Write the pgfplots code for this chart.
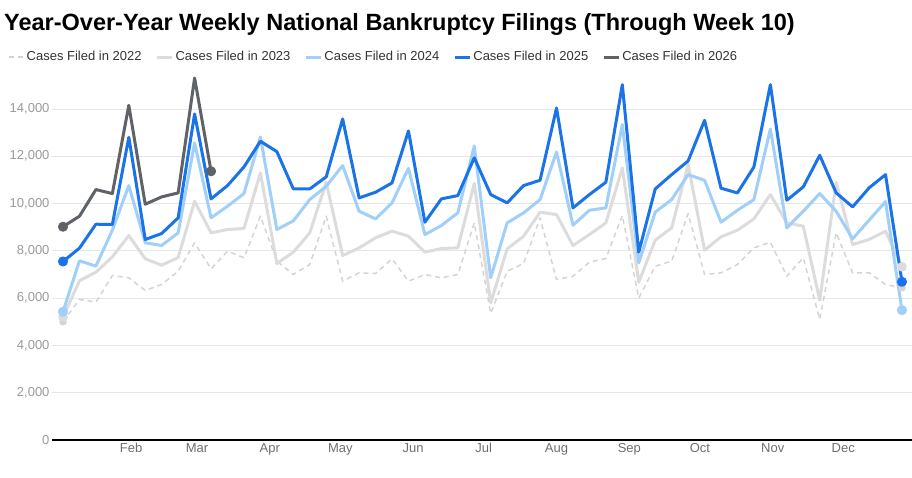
\documentclass[border=0pt]{standalone}
\usepackage{fontspec}
\setmainfont{Liberation Sans}
\usepackage{pgfplots}
\pgfplotsset{compat=1.18}
\usepackage{pgfplotstable}

\definecolor{c22}{HTML}{D4D4D4}
\definecolor{c23}{HTML}{DCDCDC}
\definecolor{c24}{HTML}{A0CFFA}
\definecolor{c25}{HTML}{1A73E8}
\definecolor{c26}{HTML}{5F6368}
\definecolor{gridc}{HTML}{E6E6E6}
\definecolor{ylab}{HTML}{9A9A9A}
\definecolor{xlab}{HTML}{6E6E6E}
\definecolor{legtext}{HTML}{333333}

% weekly filings, week index 0..51
\pgfplotstableread{
wk y22 y23 y24 y25
0 5000 5200 5423 7551
1 5944 6734 7580 8113
2 5832 7099 7354 9127
3 6958 7746 8875 9113
4 6859 8648 10761 12803
5 6324 7662 8339 8480
6 6578 7394 8227 8734
7 7141 7718 8761 9396
8 8338 10099 12563 13789
9 7239 8761 9396 10197
10 7986 8903 9887 10761
11 7704 8944 10423 11549
12 9465 11296 12817 12634
13 7563 7465 8903 12197
14 7000 7944 9268 10620
15 7423 8761 10169 10620
16 9465 10901 10732 11127
17 6718 7803 11606 13577
18 7070 8127 9676 10240
19 7042 8550 9352 10479
20 7662 8832 10028 10873
21 6718 8620 11493 13070
22 7000 7944 8690 9213
23 6859 8099 9070 10197
24 7000 8127 9606 10338
25 9183 10845 12437 11937
26 5352 5803 6861 10380
27 7141 8085 9184 10028
28 7465 8620 9606 10761
29 9394 9634 10169 10986
30 6789 9535 12183 14042
31 6930 8226 9085 9817
32 7521 8690 9718 10380
33 7676 9183 9817 10902
34 9493 11507 13338 15028
35 6000 6676 7493 7945
36 7352 8451 9634 10620
37 7563 8972 10169 11225
38 9577 11648 11225 11803
39 7000 8028 10986 13521
40 7070 8592 9213 10648
41 7423 8873 9718 10451
42 8127 9352 10169 11549
43 8366 10380 13155 15028
44 6930 9183 8973 10141
45 7704 9042 9676 10704
46 5099 5916 10423 12042
47 8761 10901 9676 10451
48 7070 8268 8508 9859
49 7070 8480 9296 10662
50 6578 8832 10085 11225
51 6437 7324 5493 6690
}\yearsdata

\pgfplotstableread{
wk y26
0 9020
1 9465
2 10592
3 10423
4 14155
5 9972
6 10282
7 10451
8 15310
9 11366
}\curyear

\begin{document}
\begin{tikzpicture}
\path[use as bounding box] (0,0) rectangle (912pt,477pt);
\node[anchor=base west, inner sep=0pt, font=\fontsize{23.5}{28}\selectfont\bfseries]
  at (4pt,446.5pt) {Year-Over-Year Weekly National Bankruptcy Filings (Through Week 10)};
\begin{axis}[
    at={(52pt,37pt)}, anchor=south west,
    scale only axis, width=860pt, height=378.3pt,
    xmin=-0.669, xmax=51.61, ymin=0, ymax=16000,
    clip=false,
    axis line style={draw=none}, tick style={draw=none},
    ymajorgrids, major grid style={color=gridc, line width=0.8pt},
    ytick={2000,4000,...,14000},
    extra y ticks={0},
    extra y tick style={ymajorgrids=true, major grid style={black, line width=1.2pt}},
    xtick={4.143,8.143,12.571,16.857,21.286,25.571,30,34.429,38.714,43.143,47.429},
    xticklabels={Feb,Mar,Apr,May,Jun,Jul,Aug,Sep,Oct,Nov,Dec},
    ticklabel style={font=\fontsize{13}{15}\selectfont},
    yticklabel style={text=ylab, xshift=1pt},
    xticklabel style={text=xlab},
    scaled y ticks=false,
    /pgf/number format/assume math mode=true,
    /pgf/number format/1000 sep={,},
    every axis plot/.append style={line join=round, line cap=round},
    legend columns=5,
    legend style={at={(axis description cs:-0.0512,1.0124)}, anchor=west,
        draw=none, fill=none, inner sep=0pt,
        font=\fontsize{13}{15}\selectfont, text=legtext,
        nodes={inner sep=2pt},
        /tikz/every even column/.append style={column sep=12pt}},
    legend image code/.code={\draw[#1, line cap=butt] (0pt,0pt) -- (15pt,0pt);},
]
\addplot[c22, line width=1.5pt, dash pattern=on 5pt off 4pt, line cap=butt,
    mark=*, mark indices={1,52}, mark size=3pt, mark options={solid}]
    table[x=wk, y=y22]{\yearsdata};
\addlegendentry{Cases Filed in 2022}
\addplot[c23, line width=3pt, mark=*, mark indices={1,52}, mark size=3.3pt]
    table[x=wk, y=y23]{\yearsdata};
\addlegendentry{Cases Filed in 2023}
\addplot[c24, line width=3pt, mark=*, mark indices={1,52}, mark size=3.5pt]
    table[x=wk, y=y24]{\yearsdata};
\addlegendentry{Cases Filed in 2024}
\addplot[c25, line width=3pt, mark=*, mark indices={1,52}, mark size=3.5pt]
    table[x=wk, y=y25]{\yearsdata};
\addlegendentry{Cases Filed in 2025}
\addplot[c26, line width=3pt, mark=*, mark indices={1,10}, mark size=3.5pt]
    table[x=wk, y=y26]{\curyear};
\addlegendentry{Cases Filed in 2026}
\end{axis}
\end{tikzpicture}
\end{document}
